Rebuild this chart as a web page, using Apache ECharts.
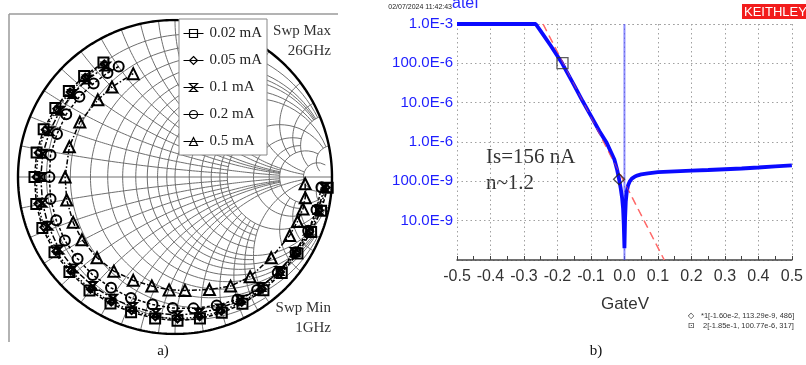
<!DOCTYPE html>
<html><head><meta charset="utf-8">
<script src="https://cdn.jsdelivr.net/npm/echarts@6/dist/echarts.min.js"></script>
<style>html,body{margin:0;padding:0;background:#fff}#c{width:806px;height:365px}</style>
</head><body><div id="c"></div>
<script>
// ---------- (a) Smith chart data: [|S|, angle in degrees], 1 GHz -> 26 GHz ----------
const sweepNames = ['0.02 mA', '0.05 mA', '0.1 mA', '0.2 mA', '0.5 mA'];
const s_002 = [[0.975,-4],[0.955,-13],[0.935,-22],[0.92,-32],[0.915,-42],[0.915,-52],[0.915,-62],[0.915,-71],[0.915,-80],[0.915,-89],[0.91,-98],[0.905,-108],[0.905,-117],[0.905,-127],[0.905,-138],[0.905,-148],[0.905,-159],[0.90,-169],[0.895,-180],[0.895,-190],[0.89,-200],[0.88,-210],[0.87,-219],[0.865,-228],[0.86,-238]];
const s_005 = [[0.965,-4],[0.945,-13],[0.925,-22],[0.91,-32],[0.905,-42],[0.905,-52],[0.905,-62],[0.905,-71],[0.905,-80],[0.905,-89],[0.90,-98],[0.895,-108],[0.895,-117],[0.895,-127],[0.895,-138],[0.895,-148],[0.895,-159],[0.89,-169],[0.885,-180],[0.885,-190],[0.88,-200],[0.87,-210],[0.86,-219],[0.855,-228],[0.85,-238]];
const s_01 = [[0.955,-4],[0.935,-13],[0.915,-22],[0.90,-32],[0.895,-42],[0.89,-52],[0.885,-62],[0.885,-71],[0.88,-80],[0.88,-89],[0.875,-98],[0.87,-108],[0.87,-117],[0.87,-127],[0.87,-138],[0.87,-148],[0.865,-159],[0.86,-169],[0.855,-180],[0.855,-190],[0.85,-200],[0.845,-210],[0.84,-219],[0.835,-228],[0.83,-238]];
const s_02 = [[0.935,-4],[0.925,-13],[0.915,-22],[0.905,-32],[0.895,-43],[0.89,-54],[0.875,-63],[0.86,-72],[0.845,-82],[0.835,-91],[0.825,-100],[0.82,-110],[0.815,-120],[0.815,-130],[0.81,-140],[0.81,-150],[0.805,-160],[0.805,-170],[0.80,-180],[0.805,-190],[0.80,-200],[0.80,-210],[0.795,-220],[0.79,-229],[0.79,-237],[0.79,-243]];
const s_05 = [[0.83,-3],[0.84,-9],[0.84,-14],[0.83,-20],[0.82,-27],[0.80,-40],[0.795,-53],[0.78,-63],[0.75,-73],[0.725,-85],[0.72,-93],[0.71,-102],[0.71,-112],[0.715,-123],[0.715,-134],[0.715,-146],[0.71,-156],[0.705,-168],[0.70,-180],[0.70,-196],[0.70,-210],[0.695,-225],[0.70,-235],[0.71,-248]];

// Smith grid: [value, truncation limit]
const rCircles = [[0.1,2],[0.2,5],[0.3,2],[0.4,5],[0.5,5],[0.6,5],[0.7,2],[0.8,5],[0.9,2],[1,10],[1.2,2],[1.4,2],[1.6,2],[1.8,2],[2,10],[3,5],[4,5],[5,10],[10,20]];
const xArcs = [[0.1,2],[0.2,5],[0.3,2],[0.4,5],[0.5,5],[0.6,5],[0.7,2],[0.8,5],[0.9,2],[1,10],[1.2,2],[1.4,2],[1.6,2],[1.8,2],[2,10],[3,5],[4,5],[5,10],[10,20]];

// ---------- (b) Diode I-V data ----------
const gateV = [-0.5,-0.265,-0.25,-0.22,-0.186,-0.15,-0.125,-0.1,-0.075,-0.053,-0.04,-0.03,-0.022,-0.016,-0.011,-0.007,-0.004,-0.002,0,0.002,0.004,0.007,0.011,0.016,0.022,0.03,0.04,0.05,0.07,0.1,0.15,0.2,0.25,0.3,0.35,0.4,0.45,0.5];
const gateI = [1e-3,1e-3,6.6e-4,2.8e-4,1e-4,2.75e-5,1.1e-5,4.6e-6,1.9e-6,9.5e-7,5.5e-7,3.6e-7,2.0e-7,1.13e-7,6.5e-8,3.8e-8,2e-8,8e-9,2e-9,1.2e-8,3e-8,5.5e-8,8e-8,1.0e-7,1.17e-7,1.3e-7,1.42e-7,1.5e-7,1.6e-7,1.72e-7,1.8e-7,1.87e-7,1.94e-7,2.03e-7,2.12e-7,2.25e-7,2.4e-7,2.55e-7];
const fitV = [-0.243, 0.119];
const fitI = [1e-3, 1e-9];
const cursorV = [0, 0];
const cursorI = [1e-9, 1e-3];
const marker1 = [-0.016, 113.29e-9];
const marker2 = [-0.185, 100.77e-6];
const yTickValues = [1e-3,1e-4,1e-5,1e-6,1e-7,1e-8,1e-9];
const yTickLabels = ['1.0E-3','100.0E-6','10.0E-6','1.0E-6','100.0E-9','10.0E-9',''];

// ---------- build ----------
function gam(r, x) { const d = (r+1)*(r+1) + x*x; return [(r*r + x*x - 1)/d, 2*x/d]; }
function smithGrid() {
  const pts = [], N = 120;
  for (const [r, xm] of rCircles) {
    const a = Math.atan(xm);
    for (let i = 0; i <= N; i++) pts.push(gam(r, Math.tan(-a + 2*a*i/N)));
    pts.push([NaN, NaN]);
  }
  for (const [xv, rm] of xArcs) {
    for (const s of [1, -1]) {
      const a = Math.atan(rm);
      for (let i = 0; i <= N; i++) pts.push(gam(Math.tan(a*i/N), s*xv));
      pts.push([NaN, NaN]);
    }
  }
  pts.push([-1, 0]); pts.push([1, 0]);
  return pts;
}
function outerCircle() {
  const pts = [], N = 360, a = Math.atan(1e6);
  for (let i = 0; i <= N; i++) pts.push(gam(0, Math.tan(-a + 2*a*i/N)));
  return pts;
}
const zip = (a, b) => a.map((v, i) => [v, b[i]]);

const hourglass = 'path://M0,0 L10,0 L0,12 L10,12 Z';
const symbols = ['rect', 'diamond', hourglass, 'circle', 'triangle'];
const sizes = [10, 7, 8, 10, 11];
const dashes = [[4,2], [1.5,2], [6,2,2,2], [3,2], [5,2,1.5,2]];
const sData = [s_002, s_005, s_01, s_02, s_05];

const serif = 'Liberation Serif, Times New Roman, serif';
const sans = 'Liberation Sans, Arial, sans-serif';

const series = [
  { type:'line', xAxisIndex:0, yAxisIndex:0, data: smithGrid(), showSymbol:false, symbol:'none', silent:true,
    lineStyle:{ color:'#6e6e6e', width:1 }, connectNulls:false, z:1 },
  { type:'line', xAxisIndex:0, yAxisIndex:0, data: outerCircle(), showSymbol:false, symbol:'none', silent:true,
    lineStyle:{ color:'#000', width:2.4 }, z:2 }
];
sData.forEach((d, i) => series.push({
  name: sweepNames[i], type:'line', coordinateSystem:'polar', data: d,
  symbol: symbols[i], symbolSize: sizes[i], showSymbol:true,
  lineStyle:{ color:'#000', width:1.5, type: dashes[i] },
  itemStyle:{ color:'rgba(255,255,255,0)', borderColor:'#000', borderWidth:2 }, z:5
}));
series.push(
  { type:'line', xAxisIndex:1, yAxisIndex:1, data: zip(cursorV, cursorI), symbol:'none', silent:true,
    lineStyle:{ color:'rgba(80,80,255,0.65)', width:2 }, z:3 },
  { type:'line', xAxisIndex:1, yAxisIndex:1, data: zip(fitV, fitI), symbol:'none', silent:true,
    lineStyle:{ color:'#ff7a7a', width:1.5, type:[8,5] }, z:4 },
  { type:'line', xAxisIndex:1, yAxisIndex:1, data: zip(gateV, gateI), symbol:'none', silent:true,
    lineStyle:{ color:'#0a0aff', width:3.8 }, z:5 },
  { type:'line', xAxisIndex:1, yAxisIndex:1, data: zip(fitV, fitI), symbol:'none', silent:true,
    lineStyle:{ color:'rgba(255,90,90,0.6)', width:1, type:[8,5] }, z:6 },
  { type:'scatter', xAxisIndex:1, yAxisIndex:1, data:[marker2], symbol:'rect', symbolSize:11, silent:true,
    itemStyle:{ color:'rgba(0,0,0,0)', borderColor:'#333', borderWidth:1.3 }, z:7 },
  { type:'scatter', xAxisIndex:1, yAxisIndex:1, data:[marker1], symbol:'diamond', symbolSize:11, silent:true,
    itemStyle:{ color:'rgba(0,0,0,0)', borderColor:'#222', borderWidth:1.3 }, z:7 }
);

const chart = echarts.init(document.getElementById('c'), null, { renderer:'canvas' });
chart.setOption({
  animation:false,
  backgroundColor:'#fff',
  grid:[
    { left:18, top:20, width:314, height:314 },
    { left:457, top:24, width:335, height:236 }
  ],
  polar:{ center:[175,177], radius:157 },
  angleAxis:{ type:'value', min:-270, max:90, startAngle:90, clockwise:false, show:false },
  radiusAxis:{ type:'value', min:0, max:1, show:false },
  xAxis:[
    { gridIndex:0, type:'value', min:-1, max:1, show:false },
    { gridIndex:1, type:'value', min:-0.5, max:0.5, interval:0.1,
      axisLine:{ onZero:false, lineStyle:{ color:'#444', width:1.5 } },
      axisTick:{ show:true, inside:true, length:4, lineStyle:{ color:'#444' } },
      minorTick:{ show:true, splitNumber:2, length:4, lineStyle:{ color:'#444' } },
      splitLine:{ show:true, lineStyle:{ color:'#a0a0a0', type:[1.5,3] } },
      axisLabel:{ fontFamily:sans, fontSize:16, color:'#333', margin:9,
        formatter: v => (Math.abs(v) < 1e-9 ? 0 : v).toFixed(1) } }
  ],
  yAxis:[
    { gridIndex:0, type:'value', min:-1, max:1, show:false },
    { gridIndex:1, type:'log', logBase:10, min:1e-9, max:1e-3, splitNumber:6,
      axisLine:{ show:false }, axisTick:{ show:false },
      splitLine:{ show:true, lineStyle:{ color:'#a0a0a0', type:[1.5,3] } },
      axisLabel:{ fontFamily:sans, fontSize:15, color:'#1e1eff', margin:4,
        formatter: v => { for (let i = 0; i < yTickValues.length; i++) if (Math.abs(Math.log10(v) - Math.log10(yTickValues[i])) < 0.01) return yTickLabels[i]; return ''; } } }
  ],
  legend:{
    data: sweepNames, orient:'vertical', left:179, top:19,
    itemWidth:20, itemHeight:10, itemGap:12, padding:[7,5,6,4],
    backgroundColor:'#fff', borderColor:'#888', borderWidth:1,
    lineStyle:{ type:'solid', width:1 },
    itemStyle:{ borderWidth:1.2 },
    textStyle:{ fontFamily:serif, fontSize:15, color:'#222', padding:[0,0,0,1] },
    selectedMode:false
  },
  graphic:[
    { type:'line', shape:{ x1:9, y1:14, x2:338, y2:14 }, style:{ stroke:'#9a9a9a', lineWidth:1.5 }, silent:true },
    { type:'line', shape:{ x1:9, y1:14, x2:9, y2:342 }, style:{ stroke:'#9a9a9a', lineWidth:1.5 }, silent:true },
    { type:'text', x:331, y:31, style:{ text:'Swp Max', font:'15px '+serif, fill:'#333', textAlign:'right', textVerticalAlign:'middle' } },
    { type:'text', x:331, y:51, style:{ text:'26GHz', font:'15px '+serif, fill:'#333', textAlign:'right', textVerticalAlign:'middle' } },
    { type:'text', x:331, y:308, style:{ text:'Swp Min', font:'15px '+serif, fill:'#333', textAlign:'right', textVerticalAlign:'middle' } },
    { type:'text', x:331, y:328, style:{ text:'1GHz', font:'15px '+serif, fill:'#333', textAlign:'right', textVerticalAlign:'middle' } },
    { type:'text', x:163, y:351, style:{ text:'a)', font:'15px '+serif, fill:'#111', textAlign:'center', textVerticalAlign:'middle' } },
    { type:'text', x:596, y:351, style:{ text:'b)', font:'15px '+serif, fill:'#111', textAlign:'center', textVerticalAlign:'middle' } },
    { type:'text', x:486, y:157, style:{ text:'Is=156 nA', font:'21px '+serif, fill:'#333', textAlign:'left', textVerticalAlign:'middle' } },
    { type:'text', x:486, y:183, style:{ text:'n~1.2', font:'21px '+serif, fill:'#333', textAlign:'left', textVerticalAlign:'middle' } },
    { type:'text', x:625, y:304, style:{ text:'GateV', font:'17px '+sans, fill:'#333', textAlign:'center', textVerticalAlign:'middle' } },
    { type:'text', x:452, y:7, style:{ text:'02/07/2024 11:42:43', font:'7px '+sans, fill:'#222', textAlign:'right', textVerticalAlign:'middle' } },
    { type:'text', x:452, y:-4, style:{ text:'ateI', font:'16px '+sans, fill:'#2a2aff', textAlign:'left', textVerticalAlign:'top' } },
    { type:'rect', shape:{ x:742, y:4, width:64, height:15 }, style:{ fill:'#f21c1c' }, silent:true },
    { type:'text', x:744, y:12, style:{ text:'KEITHLEY', font:'13px '+sans, fill:'#fff', textAlign:'left', textVerticalAlign:'middle' } },
    { type:'text', x:691, y:316, style:{ text:'◇', font:'8px DejaVu Sans', fill:'#222', textAlign:'center', textVerticalAlign:'middle' } },
    { type:'text', x:701, y:316, style:{ text:'*1[-1.60e-2, 113.29e-9, 486]', font:'7.5px '+sans, fill:'#333', textAlign:'left', textVerticalAlign:'middle' } },
    { type:'text', x:691, y:326, style:{ text:'⊡', font:'8px DejaVu Sans', fill:'#222', textAlign:'center', textVerticalAlign:'middle' } },
    { type:'text', x:703, y:326, style:{ text:'2[-1.85e-1, 100.77e-6, 317]', font:'7.5px '+sans, fill:'#333', textAlign:'left', textVerticalAlign:'middle' } }
  ],
  series: series
});
</script>
</body></html>
